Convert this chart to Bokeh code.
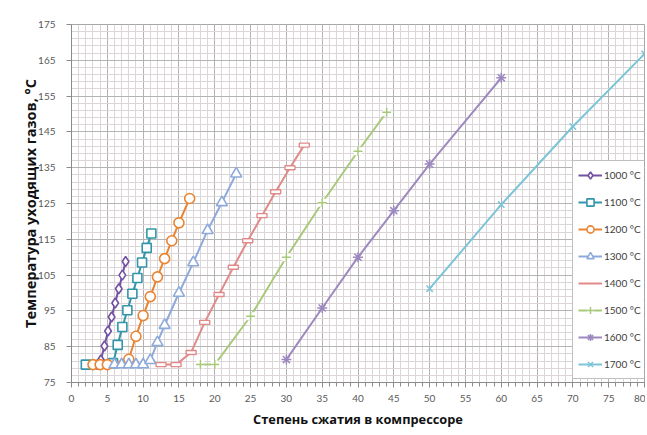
from bokeh.plotting import figure
from bokeh.models import FixedTicker, Legend, LegendItem
from bokeh.embed import file_html
from bokeh.resources import INLINE

# ---- data ----
x1000 = [3.6, 4.1, 4.6, 5.1, 5.6, 6.1, 6.6, 7.1, 7.55]
t1000 = [80, 81.3, 85.2, 89.4, 93.3, 97.2, 101.2, 105.0, 108.8]

x1100 = [2, 5.8, 6.45, 7.1, 7.8, 8.5, 9.2, 9.85, 10.5, 11.15]
t1100 = [80, 80.4, 85.5, 90.5, 95.2, 99.8, 104.2, 108.5, 112.6, 116.6]

x1200 = [3, 4, 5, 8, 9, 10, 11, 12, 13, 14, 15, 16.5]
t1200 = [80, 80, 80, 81.5, 87.9, 93.7, 99.0, 104.5, 109.6, 114.6, 119.6, 126.4]

x1300 = [6, 7, 8, 9, 10, 11, 12, 13, 15, 17, 19, 21, 23]
t1300 = [80, 80, 80, 80, 80, 81.2, 86.2, 91.0, 100.0, 108.5, 117.5, 125.3, 133.3]

x1400 = [12.5, 14.6, 16.7, 18.6, 20.6, 22.6, 24.6, 26.6, 28.5, 30.5, 32.5]
t1400 = [80, 80, 83.4, 91.8, 99.6, 107.2, 114.6, 121.6, 128.3, 135.0, 141.3]

x1500 = [18, 20, 25, 30, 35, 40, 44]
t1500 = [80, 80, 93.5, 110.0, 125.2, 139.6, 150.5]

x1600 = [30, 35, 40, 45, 50, 60]
t1600 = [81.4, 95.8, 110.0, 123.0, 136.0, 160.1]

x1700 = [50, 60, 70, 80]
t1700 = [101.2, 124.7, 146.5, 166.8]

labels = ["1000 °C", "1100 °C", "1200 °C", "1300 °C",
          "1400 °C", "1500 °C", "1600 °C", "1700 °C"]
colors = ["#7352a3", "#3196aa", "#ea8431", "#8eaadb",
          "#e08b89", "#a9c97a", "#9d89c0", "#7cc4d8"]

x_ticks = list(range(0, 81, 5))
x_minor = list(range(0, 81, 1))
y_ticks = list(range(75, 176, 10))
y_minor = list(range(75, 176, 2))

x_title = "Степень сжатия в компрессоре"
y_title = "Температура уходящих газов, °C"

# ---- figure ----
p = figure(frame_width=573, frame_height=358, x_range=(0, 80), y_range=(75, 175),
           output_backend="svg", toolbar_location=None,
           min_border_left=71, min_border_right=1, min_border_top=24,
           min_border_bottom=50)
p.background_fill_color = "white"
p.border_fill_color = "white"
p.outline_line_color = "#a6a6a6"

p.xaxis.ticker = FixedTicker(ticks=x_ticks, minor_ticks=x_minor)
p.yaxis.ticker = FixedTicker(ticks=y_ticks, minor_ticks=y_minor)

for ax in (p.xaxis, p.yaxis):
    ax.axis_line_color = "#8c8c8c"
    ax.major_tick_line_color = "#8c8c8c"
    ax.minor_tick_line_color = "#8c8c8c"
    ax.major_tick_out = 5
    ax.major_tick_in = 0
    ax.minor_tick_out = 4
    ax.minor_tick_in = 0
    ax.major_label_text_font = "Lato"
    ax.major_label_text_font_size = "10px"
    ax.major_label_text_color = "#595959"
    ax.axis_label_text_font = "Open Sans"
    ax.axis_label_text_font_style = "bold"
    ax.axis_label_text_color = "#111111"
p.xaxis.axis_label_text_font_size = "12.8px"
p.yaxis.axis_label_text_font_size = "14.5px"
p.yaxis.minor_tick_out = 0
p.xaxis.axis_label = x_title
p.yaxis.axis_label = y_title
p.xaxis.major_label_standoff = 7
p.yaxis.major_label_standoff = 11
p.xaxis.axis_label_standoff = 5
p.yaxis.axis_label_standoff = -5

for g in (p.xgrid, p.ygrid):
    g.grid_line_color = "#b3b3b3"
    g.grid_line_width = 1
    g.minor_grid_line_color = "#dcd6d9"
    g.minor_grid_line_width = 1

series = [(x1000, t1000), (x1100, t1100), (x1200, t1200), (x1300, t1300),
          (x1400, t1400), (x1500, t1500), (x1600, t1600), (x1700, t1700)]
items = []
for i, ((xs, ts), lab, col) in enumerate(zip(series, labels, colors)):
    rends = []
    ln = p.line(xs, ts, line_color=col, line_width=2)
    rends.append(ln)
    if i == 0:
        m = p.scatter(xs, ts, marker="diamond", size=10, fill_color="white",
                      line_color=col, line_width=1.6)
        rends.append(m)
    elif i == 1:
        m = p.scatter(xs, ts, marker="square", size=9, fill_color="white",
                      line_color=col, line_width=1.6)
        rends.append(m)
    elif i == 2:
        m = p.scatter(xs, ts, marker="circle", size=10, fill_color="white",
                      line_color=col, line_width=1.6)
        rends.append(m)
    elif i == 3:
        m = p.scatter(xs, ts, marker="triangle", size=11, fill_color="white",
                      line_color=col, line_width=1.6)
        rends.append(m)
    elif i == 4:
        m = p.rect(xs, ts, width=10, height=4, width_units="screen",
                   height_units="screen", fill_color="white", line_color=col,
                   line_width=1.4)
    elif i == 5:
        bg = p.scatter(xs, ts, marker="square", size=8, fill_color="white",
                       line_color=None)
        m = p.scatter(xs, ts, marker="cross", size=9, line_color=col,
                      line_width=1.5)
        rends += [bg, m]
    elif i == 6:
        m = p.scatter(xs, ts, marker="asterisk", size=10, line_color=col,
                      line_width=1.5)
        rends.append(m)
    else:
        m = p.scatter(xs, ts, marker="x", size=9, line_color=col,
                      line_width=1.5)
        rends.append(m)
    items.append(LegendItem(label=lab, renderers=rends))

legend = Legend(items=items, location=(501, 3))
legend.label_text_font = "Lato"
legend.label_text_font_size = "10px"
legend.label_text_color = "#404040"
legend.glyph_width = 24
legend.glyph_height = 18
legend.label_height = 18
legend.spacing = 9
legend.padding = 5
legend.margin = 0
legend.label_standoff = 2
legend.border_line_color = "#808080"
legend.background_fill_color = "white"
legend.background_fill_alpha = 1
p.add_layout(legend, "center")

open("out.html", "w").write(file_html(p, INLINE))
